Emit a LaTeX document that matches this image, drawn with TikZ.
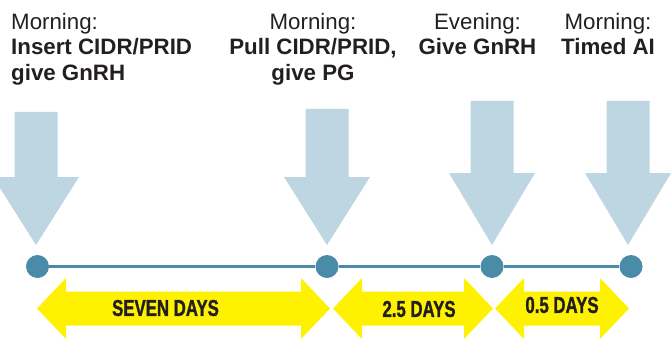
\documentclass[tikz,border=0pt]{standalone}
\usepackage{fontspec}
\setmainfont{Liberation Sans}
\newfontfamily\condfont[FakeStretch=0.73,FakeBold=1.2]{Liberation Sans}
\usepackage{tikz}
\usetikzlibrary{calc}
\definecolor{dotBlue}{RGB}{74,139,168}
\definecolor{arrowBlue}{RGB}{189,214,226}
\definecolor{dayYellow}{RGB}{255,242,0}
\definecolor{inkBlack}{RGB}{35,31,32}
\newcommand{\labelsize}{\fontsize{22.3}{25.5}\selectfont}
\newcommand{\dayssize}{\fontsize{23}{23}\selectfont}
\tikzset{
  dot/.style={circle,fill=dotBlue,minimum size=23pt,inner sep=0},
  timeline/.style={draw=dotBlue,line width=3pt},
  downarrow/.style={fill=arrowBlue},
  dayarrow/.style={fill=dayYellow},
  when/.style={inner sep=0,text=inkBlack,font=\labelsize},
  days/.style={inner sep=0,text=inkBlack,font=\condfont\bfseries\dayssize},
}

\begin{document}
\begin{tikzpicture}[x=1pt,y=-1pt]
  \useasboundingbox (0,0) rectangle (671,339);
  % blue arrows
  \foreach \x/\top/\head in {36/112/177, 327/109/177, 492/101/173, 628/101/173}
    \fill[downarrow] (\x-21.5,\top) -- (\x+21.5,\top) -- (\x+21.5,\head) -- (\x+43,\head)
      -- (\x,245) -- (\x-43,\head) -- (\x-21.5,\head) -- cycle;
  % timeline
  \node (d1) [dot] at (37.5,266.5) {};
  \node (d2) [dot] at (327,266.5) {};
  \node (d3) [dot] at (492,266.5) {};
  \node (d4) [dot] at (631,266.5) {};
  \foreach \a/\b in {d1/d2, d2/d3, d3/d4}
    \path [timeline] (\a) -- (\b);
  % labels
  \node (l1) [when,anchor=north west,align=left] at (11,13)
    {Morning:\\\textbf{Insert CIDR/PRID}\\\textbf{give GnRH}};
  \node (l2) [when,anchor=north,align=center] at (313,13)
    {Morning:\\\textbf{Pull CIDR/PRID,}\\\textbf{give PG}};
  \node (l3) [when,anchor=north,align=center] at (477.5,13)
    {Evening:\\\textbf{Give GnRH}};
  \node (l4) [when,anchor=north,align=center] at (608,13)
    {Morning:\\\textbf{Timed AI}};
  % yellow spans
  \foreach \l/\r/\tx/\ty/\txt [count=\i] in {37/330/165.5/308/SEVEN DAYS, 333/493/419/309/2.5 DAYS, 495/629/562/305/0.5 DAYS} {
    \fill[dayarrow] (\l,308.5) -- (\l+29,278) -- (\l+29,291.5) -- (\r-29,291.5) -- (\r-29,278)
      -- (\r,308.5) -- (\r-29,339) -- (\r-29,325.5) -- (\l+29,325.5) -- (\l+29,339) -- cycle;
    \node (s\i) [days] at (\tx,\ty) {\txt};
  }
\end{tikzpicture}
\end{document}
